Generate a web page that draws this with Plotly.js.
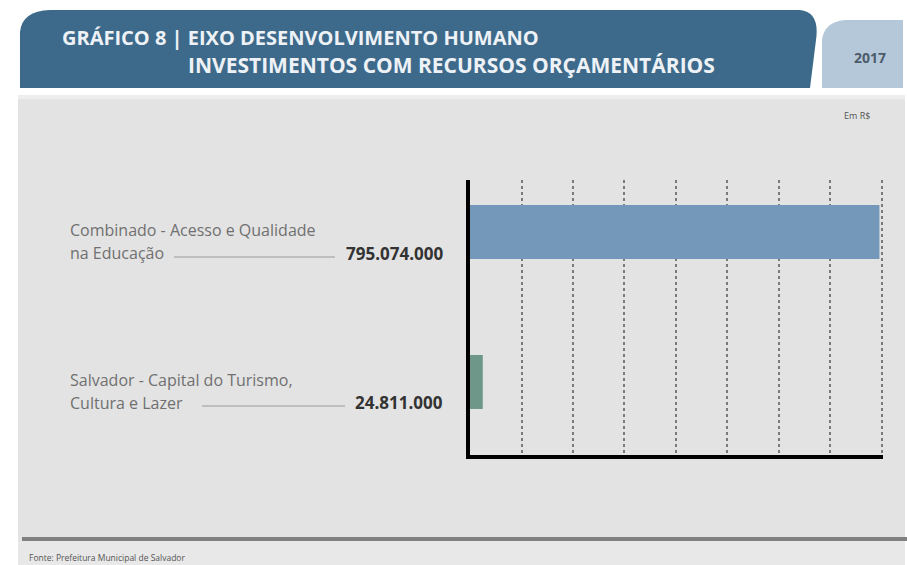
<!DOCTYPE html>
<html><head><meta charset="utf-8">
<script src="https://cdn.plot.ly/plotly-3.0.1.min.js"></script>
<style>html,body{margin:0;padding:0;background:#fff;}#chart{width:907px;height:565px;}</style>
</head><body><div id="chart"></div>
<script>
// Data
const categories = ['Salvador - Capital do Turismo', 'Combinado - Acesso e Qualidade'];
const labelLine1 = ['Salvador - Capital do Turismo,', 'Combinado - Acesso e Qualidade'];
const labelLine2 = ['Cultura e Lazer', 'na Educação'];
const values = [24811000, 795074000];
const valueLabels = ['24.811.000', '795.074.000'];
const barColors = ['#6f9789', '#7398b9'];
const titleLine1 = 'GRÁFICO 8 | EIXO DESENVOLVIMENTO HUMANO';
const titleLine2 = 'INVESTIMENTOS COM RECURSOS ORÇAMENTÁRIOS';
const yearText = '2017';
const unitText = 'Em R$';
const sourceText = 'Fonte: Prefeitura Municipal de Salvador';

const W = 907, H = 565;
const M = {l: 470, r: 24, t: 180, b: 110};
const PW = W - M.l - M.r, PH = H - M.t - M.b;
const px = x => (x - M.l) / PW;
const py = y => 1 - (y - M.t) / PH;
const P = (x, y) => px(x).toFixed(5) + ',' + py(y).toFixed(5);

const font = '"Open Sans", "Liberation Sans", sans-serif';

const shapes = [
  // gray panel
  {type:'rect', xref:'paper', yref:'paper', x0:px(18), x1:px(905), y0:py(95), y1:py(541), fillcolor:'#e3e3e3', line:{width:0}, layer:'below'},
  {type:'rect', xref:'paper', yref:'paper', x0:px(18), x1:px(905), y0:py(95), y1:py(99), fillcolor:'#eeeeee', line:{width:0}, layer:'below'},
  {type:'rect', xref:'paper', yref:'paper', x0:px(18), x1:px(905), y0:py(541), y1:py(565), fillcolor:'#e8e8e8', line:{width:0}, layer:'below'},
  {type:'rect', xref:'paper', yref:'paper', x0:px(22), x1:px(907), y0:py(537), y1:py(541), fillcolor:'#808080', line:{width:0}, layer:'below'},
  // header band
  {type:'path', xref:'paper', yref:'paper', path:'M '+P(20,88)+' L '+P(20,32)+' Q '+P(22,11)+' '+P(50,10)+' L '+P(800,10)+' Q '+P(820,12)+' '+P(816,40)+' L '+P(810,88)+' Z', fillcolor:'#3d6a8b', line:{width:0}, layer:'below'},
  // year box
  {type:'path', xref:'paper', yref:'paper', path:'M '+P(822,88)+' L '+P(822,40)+' Q '+P(824,22)+' '+P(845,20)+' L '+P(903,20)+' L '+P(903,88)+' Z', fillcolor:'#b5c8da', line:{width:0}, layer:'below'},
  // leader lines
  {type:'line', xref:'paper', yref:'paper', x0:px(202), x1:px(345), y0:py(406), y1:py(406), line:{color:'#9a9a9a', width:1}},
  {type:'line', xref:'paper', yref:'paper', x0:px(174), x1:px(335), y0:py(257), y1:py(257), line:{color:'#9a9a9a', width:1}}
];

const annotations = [
  {xref:'paper', yref:'paper', x:px(60), y:py(37), xanchor:'left', yanchor:'middle', showarrow:false, text:'<b>'+titleLine1+'</b>', font:{family:font, size:20, color:'#eef2f6'}},
  {xref:'paper', yref:'paper', x:px(186), y:py(65), xanchor:'left', yanchor:'middle', showarrow:false, text:'<b>'+titleLine2+'</b>', font:{family:font, size:21, color:'#eef2f6'}},
  {xref:'paper', yref:'paper', x:px(870), y:py(57), xanchor:'center', yanchor:'middle', showarrow:false, text:'<b>'+yearText+'</b>', font:{family:font, size:14, color:'#4d5c6b'}},
  {xref:'paper', yref:'paper', x:px(872), y:py(115), xanchor:'right', yanchor:'middle', showarrow:false, text:unitText, font:{family:font, size:9, color:'#555'}},
  {xref:'paper', yref:'paper', x:px(27), y:py(557), xanchor:'left', yanchor:'middle', showarrow:false, text:sourceText, font:{family:font, size:8.5, color:'#555'}}
];
categories.forEach((c, i) => {
  annotations.push({xref:'paper', yref:'y', x:px(68), y:c, yshift:2, xanchor:'left', yanchor:'middle', showarrow:false, text:labelLine1[i], font:{family:font, size:16, color:'#707070'}});
  annotations.push({xref:'paper', yref:'y', x:px(68), y:c, yshift:-21, xanchor:'left', yanchor:'middle', showarrow:false, text:labelLine2[i], font:{family:font, size:16, color:'#707070'}});
  annotations.push({xref:'paper', yref:'y', x:px(445), y:c, yshift:-21, xanchor:'right', yanchor:'middle', showarrow:false, text:'<b>'+valueLabels[i]+'</b>', font:{family:font, size:17, color:'#333'}});
});

const trace = {
  type:'bar', orientation:'h', x:values, y:categories,
  marker:{color:barColors, line:{width:0}}, width:0.36,
  hoverinfo:'none'
};

const layout = {
  width:W, height:H, margin:M,
  paper_bgcolor:'#ffffff', plot_bgcolor:'rgba(0,0,0,0)',
  showlegend:false,
  xaxis:{range:[0, 802000000], tick0:0, dtick:100000000, showticklabels:false, ticks:'',
         showgrid:true, gridcolor:'#7a7a7a', gridwidth:2, griddash:'dot', zeroline:false,
         showline:true, linecolor:'#000', linewidth:4, fixedrange:true},
  yaxis:{type:'category', range:[-0.487, 1.347], showticklabels:false, ticks:'', showgrid:false,
         zeroline:false, showline:true, linecolor:'#000', linewidth:4, fixedrange:true},
  shapes:shapes, annotations:annotations
};

Plotly.newPlot('chart', [trace], layout, {displayModeBar:false, staticPlot:true});
</script>
</body></html>
